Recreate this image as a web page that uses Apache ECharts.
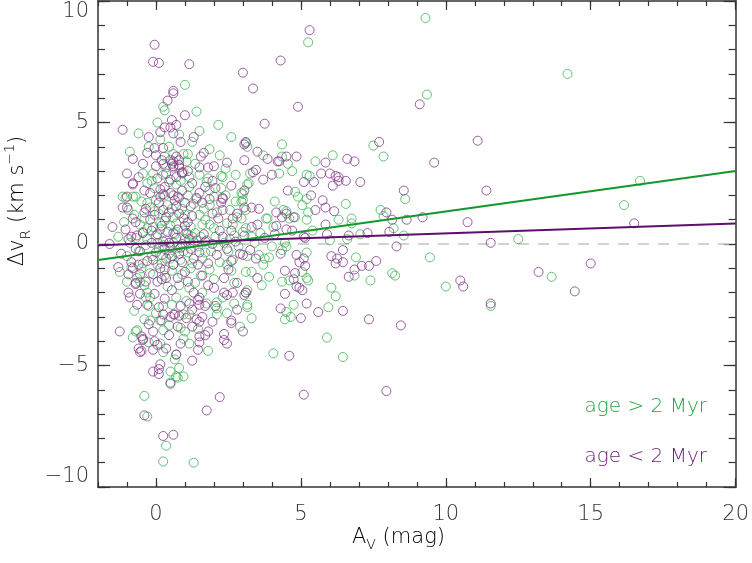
<!DOCTYPE html>
<html>
<head>
<meta charset="utf-8">
<title>dvR vs Av</title>
<script src="https://cdn.jsdelivr.net/npm/echarts@6/dist/echarts.min.js"></script>
<style>
  html, body { margin: 0; padding: 0; background: #fff; }
  #chart { width: 752px; height: 563px; }
</style>
</head>
<body>
<div id="chart"></div>
<script>
// 轴范围和刻度
const xRange = [-2, 20]
const yRange = [-10, 10]
const xMajorTicks = [0, 5, 10, 15, 20]
const yMajorTicks = [-10, -5, 0, 5, 10]

// 拟合直线端点 (A_V, dv_R)
const fitGreen = [[-2, -0.66], [20, 3.0]]
const fitPurple = [[-2, -0.05], [20, 0.84]]
const zeroLine = [[-2, 0], [20, 0]]

// age > 2 Myr
const greenPts = [
  [9.3, 9.3], [5.25, 8.3], [9.35, 6.15], [14.2, 7.0], [1.0, 6.55], [0.25, 5.65], [0.3, 5.5], [1.4, 5.45], [0.05, 5.0],
  [2.15, 4.9], [-0.6, 4.55], [1.5, 4.65], [0.15, 4.3], [2.6, 4.4], [-0.9, 3.8],
  [4.35, 4.1], [7.5, 4.05], [7.85, 3.6], [4.35, 3.6], [4.55, 3.3], [4.7, 3.0], [4.25, 2.9], [5.5, 3.4], [6.1, 3.65],
  [5.2, 2.85], [5.3, 2.8], [4.8, 2.15], [4.9, 1.95], [5.2, 1.85], [5.05, 1.6], [4.4, 1.4], [4.5, 1.35], [4.6, 1.05],
  [4.8, 1.1], [5.25, 1.3], [5.2, 1.0], [6.55, 1.65], [6.3, 1.0], [6.75, 1.05], [6.75, 0.85], [7.75, 1.4], [7.85, 1.15],
  [8.6, 1.85], [8.2, 0.65], [8.55, 0.35], [7.05, 0.4], [6.6, 0.2], [6.0, 0.15], [5.4, 0.55], [12.5, 0.2], [4.45, 0.05],
  [9.45, -0.55], [10.0, -1.75], [11.55, -2.55], [6.9, -0.55], [8.15, -1.2], [8.25, -1.3], [7.4, -1.5], [6.85, -1.3],
  [6.05, -1.8], [6.2, -2.15], [5.95, -2.6], [5.9, -3.85], [6.45, -4.65], [4.75, -2.5], [4.5, -2.8], [4.45, -3.1],
  [4.65, -3.0], [4.6, -1.5], [5.25, -1.5], [5.05, -1.15], [4.5, -0.1], [5.2, -0.35],
  [16.7, 2.6], [16.15, 1.6], [13.65, -1.35],
  [-0.4, -6.25], [-0.3, -7.1], [0.35, -8.3], [0.25, -8.95], [1.3, -9.0], [4.05, -4.5], [0.8, -5.1], [0.95, -5.45],
  [0.7, -5.45], [0.5, -5.25], [1.8, -4.4], [0.25, -4.45], [0.15, -4.1], [-0.8, -3.85], [-0.7, -3.6], [0.25, -3.55],
  [-0.2, -3.15], [0.85, -3.45], [0.95, -3.9], [0.65, -4.75], [2.45, -2.85], [3.3, -3.05], [2.1, -2.65], [2.1, -2.4],
  [1.75, -2.45], [2.7, -2.45], [0.25, -2.55], [-0.25, -2.55], [-0.35, -2.2], [-0.4, -1.7],
  [0.3, 3.6], [0.6, 3.7], [0.95, 3.7], [1.1, 3.7], [2.2, 3.65], [0.35, 3.15], [0.6, 3.15], [3.15, 4.0], [-0.1, 2.9],
  [0.25, 2.85], [1.15, 2.75], [1.5, 2.85], [1.75, 2.55], [2.25, 2.8], [2.75, 2.85], [2.25, 2.3], [3.15, 2.45],
  [-1.15, 1.95], [-0.7, 1.95], [2.4, 3.1],
  [4.1, 1.75], [3.0, 2.05], [3.0, 1.8], [2.8, 1.1], [3.8, 1.05], [3.3, 0.3], [3.55, -0.45], [4.0, -0.1], [3.9, -0.55],
  [3.7, -0.85], [4.35, -0.25], [4.35, -1.55], [3.15, -2.6], [3.9, -1.35], [3.65, -1.7], [3.3, -1.15], [3.75, -0.6],
  [5.2, -1.4], [3.15, -1.9], [3.15, -2.5], [3.7, 3.65], [3.1, 4.15], [3.25, 2.9], [3.2, 2.5], [3.85, 1.05], [4.05, 0.7],
  [-0.45, -0.8], [-1.0, -1.55], [-0.65, -1.4], [-0.2, -2.2], [0.55, -2.5], [0.95, -2.9], [1.15, -2.9], [2.1, -2.9],
  [2.9, -3.4], [3.1, -2.0], [2.7, -1.6], [3.1, -1.15], [2.45, -0.85], [2.65, -0.65], [1.85, -1.05], [1.15, -1.8],
  [0.8, -1.7], [0.6, -0.85], [0.5, -0.6], [-0.3, -2.0], [-0.65, -3.55], [-0.25, -4.05], [0.2, -3.15], [0.7, -4.55],
  [0.5, -5.7], [0.75, -5.5], [1.15, -4.1],
  [1.05, 3.4], [-0.3, 2.5], [-1.05, 1.9], [-0.8, 1.95], [-0.5, 1.75], [0.0, 1.8], [-0.3, 1.7], [-0.2, 1.5], [1.15, 2.35],
  [1.1, 2.0], [1.85, 2.2], [2.0, 1.95], [1.85, 1.6], [2.75, 1.75], [2.95, 1.75], [2.95, 2.1], [3.1, 1.4], [1.8, 2.7],
  [2.3, 2.75], [-0.55, 0.8], [-0.3, 0.65], [0.1, 1.25], [0.15, 0.85], [0.6, 1.1], [0.7, 0.85], [1.5, 1.2], [1.7, 1.0],
  [1.85, 0.8], [1.6, 0.8], [2.45, 0.85], [2.65, 0.8], [2.95, 1.05], [3.1, 0.65], [-0.45, 0.5],
  [-1.3, 0.3], [-0.9, 0.05], [-0.6, -0.3], [-0.3, 0.2], [-0.15, -0.5], [0.0, 0.35], [0.1, -0.2], [0.2, -0.8],
  [0.35, 0.15], [0.45, -0.4], [0.55, -1.1], [0.65, 0.4], [0.75, -0.15], [0.85, -0.65], [1.0, 0.2], [1.1, -0.35],
  [1.2, -1.0], [1.35, 0.45], [1.45, -0.1], [1.6, -0.6], [1.75, 0.15], [1.9, -0.3], [2.05, 0.3], [2.2, -0.75],
  [2.35, 0.05], [2.5, -0.3], [2.7, 0.35], [2.85, -0.1], [3.0, 0.5], [3.15, -0.5], [-0.5, -1.0], [0.15, 0.6],
  [0.95, 0.55], [1.55, -1.3], [2.6, -1.1], [-1.0, -0.5], [0.3, -1.3], [1.25, -0.8], [3.4, 0.05], [3.6, 0.45],
  [0.4, 1.6], [0.9, 1.45], [1.3, 1.65], [-0.05, 2.3], [0.45, 2.55], [2.55, 1.4], [1.25, 0.3], [0.25, -0.05],
  [-1.1, 0.9], [-0.75, 1.2], [-0.4, 1.05], [-0.1, 0.7], [0.3, 0.95], [0.55, 1.45], [0.8, 1.9], [1.0, 1.2],
  [1.2, 0.7], [1.4, 1.85], [1.65, 1.45], [2.1, 1.3], [2.4, 2.0], [-0.85, -0.95], [-0.55, -1.55], [-0.2, -1.2],
  [0.05, -0.85], [0.4, -1.75], [0.7, -2.2], [0.9, -1.25], [1.05, -2.35], [1.35, -1.6], [1.6, -2.0], [2.0, -1.45],
  [2.3, -2.2], [-0.75, -2.75], [-0.4, -3.1], [0.0, -2.85], [0.45, -3.35], [1.0, -3.6], [1.45, -3.5], [-0.15, 2.6],
  [0.7, 2.45], [0.95, 2.95], [1.35, 3.3], [-0.45, 2.9], [-0.7, 0.25], [0.2, -0.45], [0.6, 0.05], [0.95, -0.3],
  [1.3, 0.05], [1.7, -0.35], [2.15, -0.1], [2.55, 0.2], [-1.25, -1.15], [-0.95, 1.4], [0.45, 4.0], [1.25, 4.2],
  [-0.25, 4.0], [0.8, 4.5], [1.85, 3.9], [-0.35, -0.05], [0.05, 0.05], [0.5, 0.75], [1.1, 0.4], [1.55, 0.3],
  [2.0, 0.65], [0.3, 2.0], [0.85, 2.6], [-0.05, 1.35]
]

// age < 2 Myr
const purplePts = [
  [5.3, 8.8], [4.3, 7.55], [3.0, 7.05], [4.9, 5.65], [9.1, 5.75], [11.1, 4.25], [7.7, 4.2], [9.6, 3.35], [4.85, 3.6],
  [4.5, 3.6], [4.25, 3.4], [6.6, 3.5], [6.85, 3.4], [5.85, 3.35], [5.7, 2.9], [6.0, 2.9], [6.2, 2.8], [6.3, 2.75],
  [6.1, 2.4], [6.3, 2.6], [6.55, 2.6], [7.05, 2.55], [5.45, 2.55], [8.55, 2.2], [11.4, 2.2], [4.55, 2.2], [5.35, 2.0],
  [5.75, 1.8], [5.85, 1.5], [6.15, 1.35], [9.2, 1.1], [8.65, 1.0], [10.75, 0.9], [8.15, 1.0], [5.85, 0.8], [4.5, 0.6],
  [4.7, 0.55], [5.9, 0.4], [5.15, 0.25], [7.3, 0.45], [8.05, 0.5], [11.55, 0.05], [8.3, -0.1], [6.65, 0.35],
  [11.55, -2.45], [10.5, -1.5], [10.6, -1.75], [8.45, -3.35], [7.95, -6.05], [5.1, -6.2], [4.6, -4.6], [7.35, -3.1],
  [6.45, -2.75], [5.6, -2.8], [5.2, -2.45], [5.0, -3.05], [4.45, -2.05], [4.3, -2.65], [5.05, -1.9], [4.85, -1.75],
  [4.95, -1.8], [4.8, -1.2], [4.75, -1.45], [5.15, -0.9], [5.1, -0.6], [4.85, -0.45], [4.95, -0.75], [6.05, -0.5],
  [6.25, -0.6], [6.2, -0.8], [6.45, -0.75], [6.45, -0.25], [6.65, -1.35], [6.85, -1.05], [7.1, -0.9], [7.35, -0.9],
  [7.6, -0.7], [4.45, -1.1],
  [16.5, 0.85], [13.2, -1.15], [14.45, -1.95], [15.0, -0.8],
  [-1.25, -3.6], [-0.95, -2.0], [-0.9, -2.2], [-0.55, -2.05], [-0.7, -1.65], [-0.6, -4.3], [-0.5, -4.4], [-0.5, -3.8],
  [-0.45, -3.95], [-0.1, -3.6], [-0.05, -4.0], [0.05, -4.15], [-0.1, -5.25], [0.1, -5.15], [0.15, -4.95], [0.1, -5.35],
  [0.5, -5.75], [-0.4, -7.05], [0.25, -7.9], [0.6, -7.85], [2.2, -6.3], [1.75, -6.85], [1.25, -4.8], [0.7, -4.55],
  [0.25, -2.9], [0.85, -4.1], [0.45, -3.75], [1.45, -4.35], [1.5, -3.8], [1.4, -3.1], [1.7, -3.75], [1.8, -3.6],
  [2.35, -3.95], [2.45, -4.1], [2.6, -3.15], [2.6, -3.25], [3.0, -3.6], [2.8, -2.7], [3.05, -2.1], [1.25, -3.4],
  [1.15, -2.45], [1.5, -2.2], [0.65, -2.9], [2.35, -2.0], [2.65, -2.0], [3.5, -1.4], [3.1, -2.0],
  [-0.8, -1.0], [-0.7, -1.6], [-0.3, -2.5], [-0.1, -1.25], [0.05, -1.55], [0.35, -1.4], [0.3, -1.05], [0.75, -1.4],
  [0.9, -0.75], [1.3, -2.0], [1.45, -2.3], [1.5, -2.5], [1.8, -1.7], [2.0, -1.8], [2.35, -1.4], [2.45, -2.1],
  [2.5, -1.05], [2.8, -1.6], [3.0, -0.45], [1.6, -3.0], [1.5, -3.2], [0.5, -3.0], [0.6, -2.9], [0.8, -2.95],
  [0.15, -3.15], [-0.45, -3.9], [-0.55, -4.45], [-0.1, -4.35], [1.5, -4.05], [2.35, -3.7],
  [-0.05, 8.2], [-0.1, 7.5], [0.1, 7.45], [1.15, 7.4], [0.6, 6.3], [0.6, 6.2], [0.4, 5.9], [1.0, 5.3], [-1.15, 4.7],
  [0.55, 5.1], [0.5, 4.8], [0.7, 4.9], [0.3, 4.8], [0.6, 4.55], [3.05, 4.1], [3.1, 4.2], [-0.05, 3.95], [0.0, 3.65],
  [0.25, 3.95], [-0.8, 3.5], [-0.45, 3.3], [1.65, 3.75], [1.55, 3.6], [1.5, 3.15], [1.8, 3.15], [0.25, 3.3],
  [0.55, 3.3], [0.6, 3.2], [0.8, 3.25], [0.9, 2.9], [3.05, 3.45], [-0.8, 2.45], [-0.4, 2.2], [3.35, 6.4], [3.75, 4.95],
  [-1.5, 0.7], [-1.15, 1.5], [-1.0, 1.95], [0.2, 3.45], [0.5, 3.45], [0.7, 3.6], [3.35, 2.95], [3.45, 3.05],
  [3.7, 2.65], [4.0, 2.85], [3.3, 1.5], [3.55, 1.45], [2.3, 1.85], [2.25, 1.7], [4.35, 1.1], [4.5, 1.25],
  [3.5, 3.8], [3.85, 3.5], [4.2, 3.4], [5.1, 2.55], [5.5, 1.4], [4.15, 1.3], [4.75, 1.1], [7.95, 1.3], [5.1, 0.3],
  [4.15, 0.75], [3.3, 0.7], [3.5, 0.8], [3.05, 2.2], [2.45, 3.35], [1.95, 2.6], [2.6, 2.4], [2.0, 3.2],
  [0.6, 3.4], [0.8, 3.45], [0.9, 2.95], [0.8, 3.15], [0.5, 2.65], [-0.8, 2.5], [-1.0, 1.5], [0.15, 2.25], [0.3, 2.35],
  [0.25, 2.05], [0.5, 2.1], [0.6, 2.0], [0.65, 1.8], [0.75, 1.95], [0.9, 2.2], [1.5, 2.1], [1.4, 1.9], [2.3, 1.9],
  [3.05, 1.5], [-0.2, 1.0], [-0.05, 1.2], [0.25, 1.4], [0.35, 1.1], [0.8, 1.25], [0.95, 1.05], [1.1, 0.9],
  [1.95, 1.25], [2.15, 1.05], [2.3, 1.4], [2.65, 1.05], [2.8, 1.25], [-0.85, 0.3], [-0.65, 0.35],
  [-1.6, 0.0], [-1.2, -0.4], [-0.95, 0.2], [-0.7, -0.2], [-0.45, 0.45], [-0.3, -0.7], [-0.15, 0.05], [0.0, -0.35],
  [0.05, 0.4], [0.15, -1.0], [0.25, 0.1], [0.35, -0.6], [0.4, 0.5], [0.5, -0.15], [0.6, -0.85], [0.7, 0.25],
  [0.8, -0.4], [0.9, 0.0], [1.0, -1.15], [1.05, 0.45], [1.2, -0.2], [1.3, -0.6], [1.4, 0.15], [1.5, -0.35],
  [1.65, 0.4], [1.8, -0.8], [1.95, 0.0], [2.1, -0.45], [2.3, 0.3], [2.45, -0.2], [2.6, -0.7], [2.75, 0.1],
  [2.9, -0.4], [3.05, 0.35], [3.25, -0.25], [-0.55, -1.25], [0.2, -1.45], [0.75, 0.6], [1.6, -1.3], [-0.85, -0.75],
  [3.45, -0.6], [3.75, 0.25], [4.1, 0.4], [4.3, -0.4], [0.1, 1.7], [-0.35, 1.45], [1.2, 1.55], [1.7, 2.35],
  [-1.05, 0.6], [-0.7, 0.9], [-0.4, 1.3], [-0.15, 0.55], [0.2, 0.75], [0.45, 1.3], [0.7, 1.55], [1.0, 1.7],
  [1.25, 1.15], [1.6, 1.7], [1.85, 1.85], [2.05, 2.3], [-0.95, -1.25], [-0.6, -0.85], [-0.35, -1.55], [-0.05, -2.05],
  [0.3, -2.25], [0.55, -1.9], [0.85, -2.55], [1.1, -1.55], [1.25, -2.7], [1.7, -2.55], [2.05, -2.55], [-0.65, -2.5],
  [-0.25, -3.3], [0.1, -2.6], [0.35, -4.3], [0.75, -3.4], [1.05, -3.05], [1.95, -3.2], [-0.2, 2.1], [0.05, 2.7],
  [0.35, 2.9], [0.7, 2.75], [1.1, 3.0], [1.25, 2.5], [-0.6, 2.75], [-1.0, 2.9], [-0.55, -0.3], [-0.1, -0.65],
  [0.3, -0.2], [0.6, 0.45], [0.85, -0.15], [1.15, 0.2], [1.45, -0.85], [1.7, 0.1], [2.2, 0.55], [-1.3, -0.95],
  [-0.25, 4.4], [0.15, 4.6], [0.85, 4.2], [1.3, 4.4], [0.0, 3.2], [-0.3, 3.75], [0.45, 0.05], [1.0, 0.75],
  [0.15, 1.95], [-0.8, 1.05], [0.55, -0.5], [2.6, 0.55]
]

const green = '#3db452'
const purple = '#84378c'
const fontFamily = '"DejaVu Sans", sans-serif'

const chart = echarts.init(document.getElementById('chart'))

// 刻度朝内, 四边都画
function xAxisOf (position, major, withLabel) {
  return {
    type: 'value',
    position: position,
    min: xRange[0],
    max: xRange[1],
    interval: 1,
    axisLine: { show: !major, onZero: false, lineStyle: { color: '#333', width: 1.5 } },
    axisTick: major
      ? { inside: true, length: 9, customValues: xMajorTicks, lineStyle: { color: '#333', width: 1.2 } }
      : { inside: true, length: 5, lineStyle: { color: '#333', width: 1.2 } },
    axisLabel: withLabel
      ? {
          show: true,
          margin: 17,
          color: '#333',
          fontSize: 21,
          fontFamily: fontFamily,
          fontWeight: 200,
          formatter: v => (v % 5 === 0 ? String(v) : '')
        }
      : { show: false },
    splitLine: { show: false }
  }
}

function yAxisOf (position, major, withLabel) {
  return {
    type: 'value',
    position: position,
    min: yRange[0],
    max: yRange[1],
    interval: 1,
    axisLine: { show: !major, onZero: false, lineStyle: { color: '#666', width: 2 } },
    axisTick: major
      ? { inside: true, length: 12, customValues: yMajorTicks, lineStyle: { color: '#333', width: 1.2 } }
      : { inside: true, length: 7, lineStyle: { color: '#333', width: 1.2 } },
    axisLabel: withLabel
      ? {
          show: true,
          margin: 9,
          color: '#333',
          fontSize: 21,
          fontFamily: fontFamily,
          fontWeight: 200,
          verticalAlignMaxLabel: 'top',
          verticalAlignMinLabel: 'bottom',
          formatter: v => (v % 5 === 0 ? String(v).replace('-', '\u2212') : '')
        }
      : { show: false },
    splitLine: { show: false }
  }
}

const titleStyle = {
  m: { fontSize: 21, fontFamily: fontFamily, fontWeight: 200, color: '#333', lineHeight: 30 },
  sub: { fontSize: 14, fontFamily: fontFamily, fontWeight: 200, color: '#333', verticalAlign: 'bottom', lineHeight: 14 },
  sup: { fontSize: 14, fontFamily: fontFamily, fontWeight: 200, color: '#333', verticalAlign: 'top', lineHeight: 14 }
}

const option = {
  animation: false,
  backgroundColor: '#fff',
  grid: { left: 98, right: 14, top: 1, bottom: 76, containLabel: false },
  xAxis: [
    xAxisOf('bottom', false, true),
    xAxisOf('bottom', true, false),
    xAxisOf('top', false, false),
    xAxisOf('top', true, false)
  ],
  yAxis: [
    yAxisOf('left', false, true),
    yAxisOf('left', true, false),
    yAxisOf('right', false, false),
    yAxisOf('right', true, false)
  ],
  series: [
    {
      name: 'zero',
      type: 'line',
      data: zeroLine,
      showSymbol: false,
      silent: true,
      lineStyle: { color: '#c4c4c4', width: 1.5, type: [11, 9] },
      z: 1
    },
    {
      name: 'age > 2 Myr',
      type: 'scatter',
      data: greenPts,
      symbol: 'circle',
      symbolSize: 9,
      silent: true,
      itemStyle: { color: 'rgba(0,0,0,0)', borderColor: green, borderWidth: 1 },
      z: 2
    },
    {
      name: 'age < 2 Myr',
      type: 'scatter',
      data: purplePts,
      symbol: 'circle',
      symbolSize: 9,
      silent: true,
      itemStyle: { color: 'rgba(0,0,0,0)', borderColor: purple, borderWidth: 1 },
      z: 2
    },
    {
      name: 'fit old',
      type: 'line',
      data: fitGreen,
      showSymbol: false,
      silent: true,
      lineStyle: { color: '#11992f', width: 2 },
      z: 3
    },
    {
      name: 'fit young',
      type: 'line',
      data: fitPurple,
      showSymbol: false,
      silent: true,
      lineStyle: { color: '#5d0f6b', width: 2 },
      z: 3
    }
  ],
  graphic: [
    // x 轴标题
    {
      type: 'text',
      left: 352,
      top: 527,
      style: { text: '{m|A}{sub|V}{m| (mag)}', rich: titleStyle }
    },
    // y 轴标题
    {
      type: 'text',
      x: 18,
      y: 201,
      rotation: Math.PI / 2,
      style: {
        text: '{m|\u0394v}{sub|R}{m| (km s}{sup|\u22121}{m|)}',
        rich: titleStyle,
        align: 'center',
        verticalAlign: 'middle'
      }
    },
    // 图例文字
    {
      type: 'text',
      x: 707,
      y: 407,
      style: {
        text: 'age > 2 Myr',
        fill: '#1aa83c',
        font: '200 20px "DejaVu Sans", sans-serif',
        align: 'right',
        verticalAlign: 'middle'
      }
    },
    {
      type: 'text',
      x: 707,
      y: 457,
      style: {
        text: 'age < 2 Myr',
        fill: '#6a1a72',
        font: '200 20px "DejaVu Sans", sans-serif',
        align: 'right',
        verticalAlign: 'middle'
      }
    }
  ]
}

chart.setOption(option)
</script>
</body>
</html>
